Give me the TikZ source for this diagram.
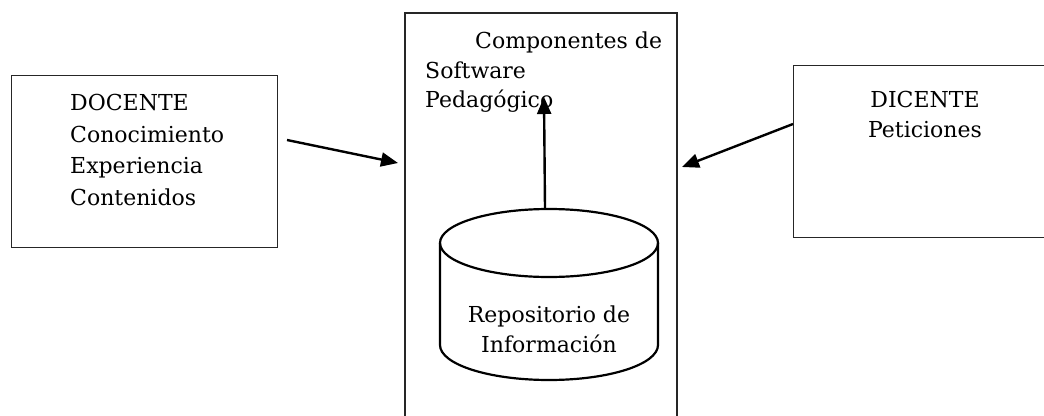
\documentclass[tikz,border=0pt]{standalone}
\usepackage{fontspec}
\setmainfont{DejaVu Serif}
\usetikzlibrary{arrows.meta}
\tikzset{
  boxline/.style={draw=black!85, line width=1.1pt},
  txt/.style={inner sep=0pt, anchor=north west, align=left, font=\fontsize{22}{31.5}\selectfont},
  flow/.style={line width=2.4pt, -{Triangle[length=17pt,width=14pt]}},
  cyl/.style={line width=2.2pt}
}
\begin{document}
\begin{tikzpicture}[x=1pt,y=-1pt]
\useasboundingbox (0,0) rectangle (1044,415);
% left box
\node[boxline, minimum width=266pt, minimum height=172pt, anchor=north west, inner sep=0pt] (docente) at (11,75) {};
\node[txt] (doctext) at (70,94) {DOCENTE\\Conocimiento\\Experiencia\\Contenidos};
% center box (open at bottom)
\draw[boxline] (405,420) -- (405,13) -- (677,13) -- (677,420);
\coordinate (cleft) at (405,160);
\node[txt, font=\fontsize{22}{29.5}\selectfont] (comptext) at (425,32) {\hspace*{50pt}Componentes de\\Software\\Pedagógico};
% right box
\node[boxline, minimum width=257pt, minimum height=172pt, anchor=north west, inner sep=0pt] (dicente) at (793,65) {};
\node[txt, align=center, anchor=north, font=\fontsize{22}{30}\selectfont] (dictext) at (925,91) {DICENTE\\Peticiones};
% cylinder
\draw[cyl] (440,243) -- (440,345) arc[start angle=180, end angle=360, x radius=109, y radius=-35] -- (658,243);
\draw[cyl] (549,243) ellipse[x radius=109, y radius=34];
\node[txt, align=center, anchor=north, font=\fontsize{22}{30}\selectfont] (repo) at (549,306) {Repositorio de\\Información};
% arrows
\coordinate (a1s) at (287,140);
\coordinate (a1e) at (398,163);
\coordinate (a2s) at (793,124);
\coordinate (a2e) at (682,167);
\coordinate (a3s) at (545,208);
\coordinate (a3e) at (544,97);
\draw[flow] (a1s) -- (a1e);
\draw[flow] (a2s) -- (a2e);
\draw[flow] (a3s) -- (a3e);
\end{tikzpicture}
\end{document}
